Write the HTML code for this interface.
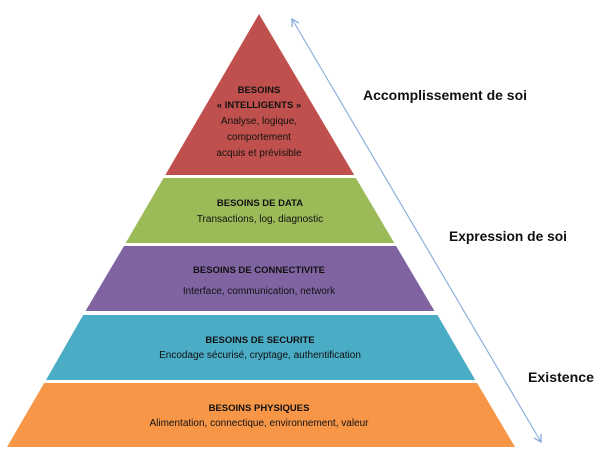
<!DOCTYPE html>
<html><head><meta charset="utf-8"><style>
html,body{margin:0;padding:0;background:#fff;}
svg{display:block;}
text{font-family:"Liberation Sans",sans-serif;fill:#111;}
.t{font-weight:bold;font-size:9.5px;}
.s{font-size:10px;}
.l{font-weight:bold;font-size:14px;fill:#111;}
</style></head><body>
<svg width="610" height="468" viewBox="0 0 610 468" xmlns="http://www.w3.org/2000/svg">
<defs>
<marker id="a" markerWidth="10" markerHeight="10" refX="8" refY="5" orient="auto-start-reverse" markerUnits="userSpaceOnUse">
<path d="M1,1 L8,5 L1,9" fill="none" stroke="#7ea3d4" stroke-width="1.2"/>
</marker>
</defs>
<polygon points="259,14 354.2,175 165.3,175" fill="#C0504D"/>
<polygon points="163.5,178 355.9,178 394.3,243 125.7,243" fill="#9BBB59"/>
<polygon points="124,246 396.1,246 434.5,311 85.5,311" fill="#8064A2"/>
<polygon points="83.2,315 437.5,315 475.3,380 46,380" fill="#4BACC6"/>
<polygon points="44.2,383 477.1,383 515,447 7,447" fill="#F79646"/>
<line x1="292" y1="19" x2="541" y2="442" stroke="#8fb0dc" stroke-width="1.2" marker-start="url(#a)" marker-end="url(#a)"/>

<g text-anchor="middle">
<text class="t" x="259" y="93">BESOINS</text>
<text class="t" x="259" y="108">« INTELLIGENTS »</text>
<text class="s" x="259" y="124">Analyse, logique,</text>
<text class="s" x="259" y="140">comportement</text>
<text class="s" x="259" y="156">acquis et prévisible</text>

<text class="t" x="260" y="206">BESOINS DE DATA</text>
<text class="s" x="260" y="222">Transactions, log, diagnostic</text>

<text class="t" x="259" y="273">BESOINS DE CONNECTIVITE</text>
<text class="s" x="259" y="294">Interface,  communication,  network</text>

<text class="t" x="260" y="343">BESOINS DE SECURITE</text>
<text class="s" x="260" y="358">Encodage sécurisé, cryptage, authentification</text>

<text class="t" x="259" y="411">BESOINS PHYSIQUES</text>
<text class="s" x="259" y="426">Alimentation,  connectique,  environnement,  valeur</text>
</g>

<text class="l" x="363" y="100" textLength="164" lengthAdjust="spacingAndGlyphs">Accomplissement de soi</text>
<text class="l" x="449" y="241" textLength="118" lengthAdjust="spacingAndGlyphs">Expression de soi</text>
<text class="l" x="528" y="382" textLength="66" lengthAdjust="spacingAndGlyphs">Existence</text>
</svg>
</body></html>
